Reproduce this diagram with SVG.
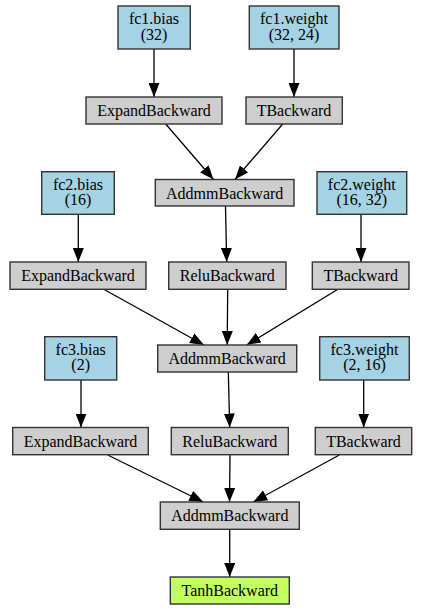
<svg xmlns="http://www.w3.org/2000/svg" width="431" height="614" viewBox="0 0 431 614">
<style>
.p rect{fill:#a5d3e4;stroke:#333;stroke-width:1.4}
.g rect{fill:#cecece;stroke:#333;stroke-width:1.4}
.t rect{fill:#c2ff5f;stroke:#333;stroke-width:1.4}
text{font-family:"Liberation Serif","Times New Roman",serif;font-size:16px;fill:#000;text-anchor:middle}
#edges line{stroke:#000;stroke-width:1.3;marker-end:url(#ah)}
</style>
<defs>
<marker id="ah" markerUnits="userSpaceOnUse" markerWidth="14" markerHeight="11" refX="14" refY="5.5" orient="auto" viewBox="0 0 14 11">
<path d="M0,0 L14,5.5 L0,11 z" fill="#000"/>
</marker>
</defs>
<rect width="431" height="614" fill="#fff"/>
<g id="edges">
<line x1="154" y1="49" x2="154" y2="97"/>
<line x1="294" y1="49" x2="294" y2="97"/>
<line x1="165.7" y1="124" x2="213.5" y2="179.5"/>
<line x1="282.7" y1="124" x2="235" y2="179.5"/>
<line x1="225.5" y1="206" x2="226.7" y2="262"/>
<line x1="78.3" y1="214" x2="78.3" y2="262"/>
<line x1="361" y1="214" x2="361" y2="262"/>
<line x1="103.3" y1="289" x2="204" y2="345"/>
<line x1="227.7" y1="289" x2="227.2" y2="345"/>
<line x1="338.3" y1="289" x2="246.7" y2="345"/>
<line x1="81" y1="380" x2="81" y2="427.5"/>
<line x1="228.3" y1="372" x2="229.7" y2="427.5"/>
<line x1="363.7" y1="380" x2="363.7" y2="427.5"/>
<line x1="107.7" y1="455" x2="203.3" y2="502"/>
<line x1="230" y1="455" x2="229.5" y2="502"/>
<line x1="339.3" y1="455" x2="253.3" y2="502"/>
<line x1="229.7" y1="529.5" x2="229.7" y2="577"/>
</g>
<g id="fc1_bias" class="p"><rect x="118" y="6" width="72.3" height="43"/><text x="154" y="24">fc1.bias</text><text x="154" y="39.5">(32)</text></g>
<g id="fc1_weight" class="p"><rect x="249.3" y="6" width="89.7" height="43"/><text x="294" y="24">fc1.weight</text><text x="294" y="39.5">(32, 24)</text></g>
<g id="expand1" class="g"><rect x="86" y="97" width="136" height="27"/><text x="154" y="116">ExpandBackward</text></g>
<g id="t1" class="g"><rect x="246" y="97" width="96.3" height="27"/><text x="294" y="116">TBackward</text></g>
<g id="addmm1" class="g"><rect x="155.3" y="179.5" width="138.7" height="26.5"/><text x="224.7" y="198.5">AddmmBackward</text></g>
<g id="fc2_bias" class="p"><rect x="41.7" y="171.7" width="72.6" height="42.6"/><text x="78" y="189.7">fc2.bias</text><text x="78" y="205.2">(16)</text></g>
<g id="fc2_weight" class="p"><rect x="317" y="171.7" width="89.7" height="42.6"/><text x="361.8" y="189.7">fc2.weight</text><text x="361.8" y="205.2">(16, 32)</text></g>
<g id="expand2" class="g"><rect x="10" y="262" width="136" height="27.3"/><text x="78" y="281">ExpandBackward</text></g>
<g id="relu1" class="g"><rect x="168.7" y="262" width="117.3" height="27.3"/><text x="227.3" y="281">ReluBackward</text></g>
<g id="t2" class="g"><rect x="312.3" y="262" width="96.7" height="27.3"/><text x="360.7" y="281">TBackward</text></g>
<g id="fc3_bias" class="p"><rect x="44.7" y="336.7" width="72" height="43.3"/><text x="80.7" y="354.7">fc3.bias</text><text x="80.7" y="370.2">(2)</text></g>
<g id="addmm2" class="g"><rect x="157.7" y="345" width="139" height="27"/><text x="227.2" y="364">AddmmBackward</text></g>
<g id="fc3_weight" class="p"><rect x="319.7" y="336.7" width="89.6" height="43.3"/><text x="364.5" y="354.7">fc3.weight</text><text x="364.5" y="370.2">(2, 16)</text></g>
<g id="expand3" class="g"><rect x="12.7" y="427.5" width="135.6" height="27.2"/><text x="80.5" y="446.5">ExpandBackward</text></g>
<g id="relu2" class="g"><rect x="171.3" y="427.5" width="117" height="27.2"/><text x="229.8" y="446.5">ReluBackward</text></g>
<g id="t3" class="g"><rect x="315.3" y="427.5" width="96.4" height="27.2"/><text x="363.5" y="446.5">TBackward</text></g>
<g id="addmm3" class="g"><rect x="160.3" y="502" width="139" height="27.3"/><text x="229.8" y="521">AddmmBackward</text></g>
<g id="tanh" class="t"><rect x="170.3" y="577" width="119" height="27"/><text x="229.8" y="596">TanhBackward</text></g>
</svg>
